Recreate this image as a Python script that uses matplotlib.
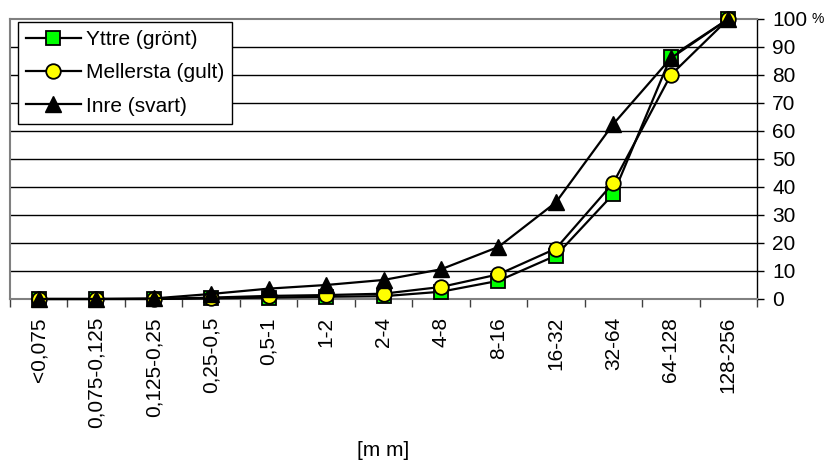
import matplotlib
matplotlib.use("Agg")
import matplotlib.pyplot as plt
import numpy as np

plt.rcParams['font.family'] = ['Liberation Sans', 'DejaVu Sans']

categories = ["<0,075", "0,075-0,125", "0,125-0,25", "0,25-0,5", "0,5-1", "1-2", "2-4",
              "4-8", "8-16", "16-32", "32-64", "64-128", "128-256"]
yttre = [0, 0, 0, 0.2, 0.5, 0.8, 1.0, 2.6, 6.5, 15.5, 37.5, 86.5, 100]
mellersta = [0, 0, 0, 0.5, 1.1, 1.4, 1.9, 4.3, 8.8, 18, 41.5, 80, 100]
inre = [0, 0, 0.2, 1.8, 3.7, 5.0, 6.8, 10.6, 18.6, 34.5, 62.5, 86, 100]
yticks = [0, 10, 20, 30, 40, 50, 60, 70, 80, 90, 100]
ytick_labels = ["0", "10", "20", "30", "40", "50", "60", "70", "80", "90", "100"]
unit_label = "%"
xlabel = "[m m]"

FS = 15
W, H = 827, 462
fig = plt.figure(figsize=(W / 100, H / 100), dpi=100)
ax = fig.add_axes([10 / W, 1 - 299 / H, (757 - 10) / W, (299 - 19) / H])

x = np.arange(len(categories))
ax.plot(x, yttre, color='black', lw=1.6, marker='s', ms=10, mfc='#00ff00', mec='black', mew=1.3,
        label='Yttre (grönt)', zorder=3, clip_on=False)
ax.plot(x, mellersta, color='black', lw=1.6, marker='o', ms=10.5, mfc='#ffff00', mec='black', mew=1.3,
        label='Mellersta (gult)', zorder=4, clip_on=False)
ax.plot(x, inre, color='black', lw=1.6, marker='^', ms=11, mfc='black', mec='black', mew=1.0,
        label='Inre (svart)', zorder=5, clip_on=False)

ax.set_xlim(-0.5, len(categories) - 0.5)
ax.set_ylim(0, 100)

for yv in yticks[1:-1]:
    ax.axhline(yv, color='black', lw=1.0, zorder=1)

ax.yaxis.tick_right()
ax.set_yticks(yticks)
ax.set_yticklabels(ytick_labels, fontsize=FS)
ax.tick_params(axis='y', direction='out', length=5, width=1, color='black', pad=6)

ax.set_xticks(x)
ax.set_xticklabels(categories, rotation=90, fontsize=FS)
ax.set_xticks(np.arange(-0.5, len(categories)), minor=True)
ax.tick_params(axis='x', which='major', length=0, pad=13)
ax.tick_params(axis='x', which='minor', length=6, width=1, color='#404040', direction='out')

ax.spines['left'].set_color('#808080')
ax.spines['top'].set_color('#808080')
ax.spines['left'].set_linewidth(1.5)
ax.spines['top'].set_linewidth(1.5)
ax.spines['right'].set_color('black')
ax.spines['right'].set_linewidth(1.0)
ax.spines['bottom'].set_color('#808080')
ax.spines['bottom'].set_linewidth(1.5)

leg = ax.legend(loc='upper left', bbox_to_anchor=(8 / 747, 1 - 3 / 280), fontsize=FS,
                frameon=True, fancybox=False, edgecolor='black', framealpha=1,
                borderpad=0.4, labelspacing=0.68, handlelength=2.6, handletextpad=0.25,
                borderaxespad=0)
leg.get_frame().set_linewidth(1.0)

fig.text(811 / W, 1 - 12 / H, unit_label, fontsize=10, ha='left', va='top')
fig.text(383 / W, 1 - 450 / H, xlabel, fontsize=FS, ha='center', va='center')

fig.savefig("out.png", dpi=100)
